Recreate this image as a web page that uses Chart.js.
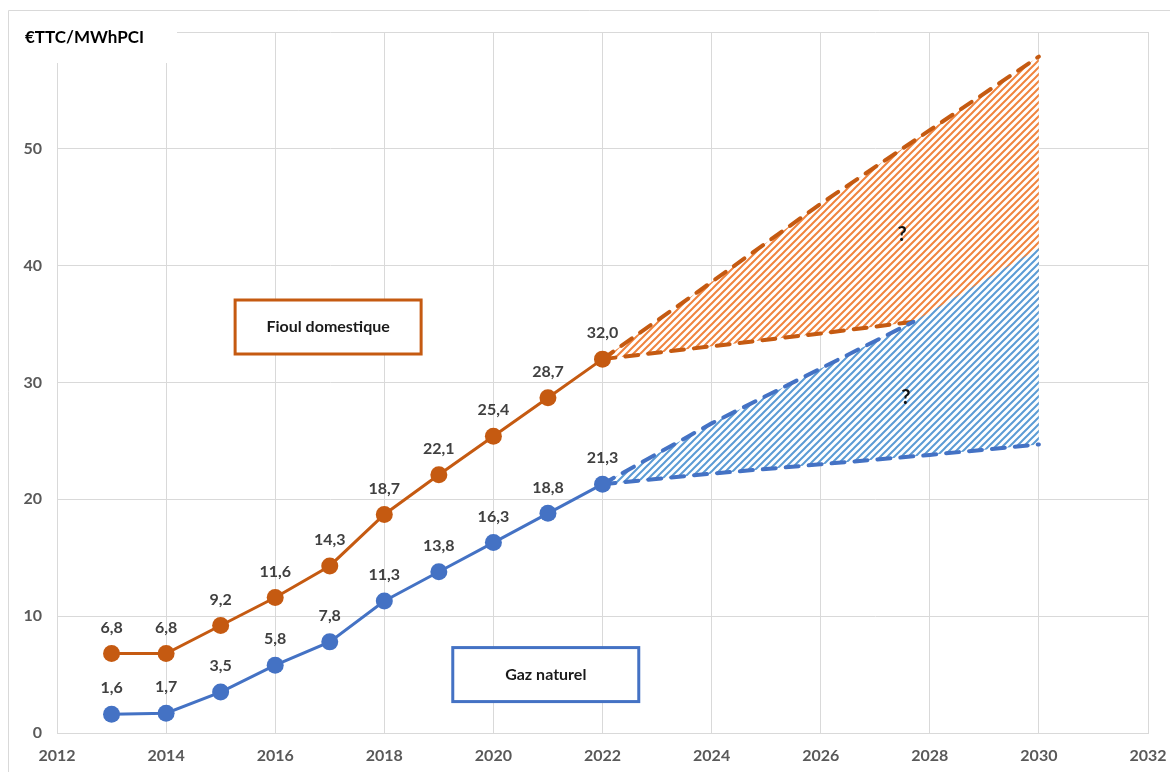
<!DOCTYPE html>
<html><head><meta charset="utf-8">
<script src="https://cdn.jsdelivr.net/npm/chart.js@4.4.0/dist/chart.umd.min.js"></script>
<style>html,body{margin:0;padding:0;background:#fff;}#wrap{width:1170px;height:772px;position:relative;}</style>
</head><body><div id="wrap"><canvas id="c" width="1170" height="772"></canvas></div>
<script>
// ---- data ----
const years = [2013, 2014, 2015, 2016, 2017, 2018, 2019, 2020, 2021, 2022];
const fioul = [6.8, 6.8, 9.2, 11.6, 14.3, 18.7, 22.1, 25.4, 28.7, 32.0];
const gaz = [1.6, 1.7, 3.5, 5.8, 7.8, 11.3, 13.8, 16.3, 18.8, 21.3];

const fioulHighX = [2022, 2024, 2026, 2028, 2030];
const fioulHighY = [32.0, 38.6, 45.3, 51.6, 57.9];
const fioulLowX = [2022, 2024, 2026, 2027.7, 2030];
const fioulLowY = [32.0, 33.1, 34.2, 35.2, 36.4];
const gazHighX = [2022, 2024, 2026, 2027.7, 2030];
const gazHighY = [21.3, 26.5, 31.2, 35.2, 41.5];
const gazLowX = [2022, 2024, 2026, 2028, 2030];
const gazLowY = [21.3, 22.2, 23.0, 23.8, 24.7];
const meetX = 2027.7; // where the two hatched areas meet

const xMin = 2012, xMax = 2032, xStep = 2;
const yMin = 0, yMax = 60, yStep = 10;
const yUnit = '€TTC/MWhPCI';
const seriesNames = ['Fioul domestique', 'Gaz naturel'];

// ---- styles ----
const ORANGE = '#C55A11', BLUE = '#4472C4';
const ORANGE_H = '#F0843E', BLUE_H = '#5B9BD5';
const FONT = 'Lato, "Open Sans", sans-serif';
const NONE = 'rgba(0,0,0,0)';

const pts = (xs, ys) => xs.map((x, i) => ({x: x, y: ys[i]}));
const canvas = document.getElementById('c');
const ctx = canvas.getContext('2d');

function hatch(color) {
  const s = 7;
  const c = document.createElement('canvas');
  c.width = s; c.height = s;
  const g = c.getContext('2d');
  g.fillStyle = '#fff';
  g.fillRect(0, 0, s, s);
  g.strokeStyle = color;
  g.lineWidth = 2.0;
  g.beginPath();
  g.moveTo(-1, s + 1); g.lineTo(s + 1, -1);
  g.moveTo(-2, 2); g.lineTo(2, -2);
  g.moveTo(s - 2, s + 2); g.lineTo(s + 2, s - 2);
  g.stroke();
  return ctx.createPattern(c, 'repeat');
}

const hideAfterMeet = {
  borderColor: c => (c.p0.parsed.x >= meetX ? NONE : undefined)
};

const dashed = {
  type: 'line', borderWidth: 4, borderDash: [13, 10], borderCapStyle: 'round',
  pointRadius: 0, pointHoverRadius: 0, tension: 0, fill: false
};
const areaEdge = {
  type: 'line', borderWidth: 0, borderColor: NONE, pointRadius: 0, pointHoverRadius: 0, tension: 0
};

const decorations = {
  id: 'decorations',
  afterDatasetsDraw(chart) {
    const g = chart.ctx;
    g.save();
    g.font = 'bold 16px ' + FONT;
    g.fillStyle = '#404040';
    g.textAlign = 'center';
    g.textBaseline = 'middle';
    [0, 1].forEach(di => {
      const meta = chart.getDatasetMeta(di);
      const vals = di === 0 ? fioul : gaz;
      meta.data.forEach((p, i) => {
        g.fillText(vals[i].toFixed(1).replace('.', ','), p.x, p.y - 26);
      });
    });
    g.restore();
  },
  afterDraw(chart) {
    const g = chart.ctx;
    const xs = chart.scales.x, ys = chart.scales.y;
    g.save();
    // title box covering grid
    g.fillStyle = '#fff';
    g.fillRect(9, 11, 168, 52);
    g.fillStyle = '#000';
    g.font = 'bold 17px ' + FONT;
    g.textAlign = 'left';
    g.textBaseline = 'middle';
    g.fillText(yUnit, 25, 38);
    // series boxes
    const box = (cx, cy, w, h, col, txt) => {
      g.fillStyle = '#fff';
      g.fillRect(cx - w / 2, cy - h / 2, w, h);
      g.strokeStyle = col;
      g.lineWidth = 3;
      g.strokeRect(cx - w / 2, cy - h / 2, w, h);
      g.fillStyle = '#1a1a1a';
      g.font = 'bold 16px ' + FONT;
      g.textAlign = 'center';
      g.fillText(txt, cx, cy);
    };
    box(xs.getPixelForValue(2016.97), ys.getPixelForValue(34.75), 186, 54, ORANGE, seriesNames[0]);
    box(xs.getPixelForValue(2020.96), ys.getPixelForValue(5.0), 186, 54, BLUE, seriesNames[1]);
    // question marks
    g.fillStyle = '#111';
    g.font = 'bold 20px ' + FONT;
    g.fillText('?', xs.getPixelForValue(2027.49), ys.getPixelForValue(42.7));
    g.fillText('?', xs.getPixelForValue(2027.56), ys.getPixelForValue(28.7));
    // outer frame
    g.strokeStyle = '#D9D9D9';
    g.lineWidth = 1;
    g.beginPath();
    g.moveTo(8.5, 772); g.lineTo(8.5, 10.5); g.lineTo(1170, 10.5);
    g.stroke();
    g.restore();
  }
};

new Chart(ctx, {
  type: 'line',
  data: {
    datasets: [
      // 0, 1: measured series
      { label: seriesNames[0], data: pts(years, fioul), borderColor: ORANGE, backgroundColor: ORANGE,
        borderWidth: 3, pointRadius: 8.5, pointBackgroundColor: ORANGE, pointBorderColor: ORANGE,
        pointBorderWidth: 0, order: 1, fill: false },
      { label: seriesNames[1], data: pts(years, gaz), borderColor: BLUE, backgroundColor: BLUE,
        borderWidth: 3, pointRadius: 8.5, pointBackgroundColor: BLUE, pointBorderColor: BLUE,
        pointBorderWidth: 0, order: 2, fill: false },
      // 2: fioul high (dashed + hatched area down to 3)
      Object.assign({}, dashed, { label: 'fh', data: pts(fioulHighX, fioulHighY), borderColor: ORANGE,
        backgroundColor: hatch(ORANGE_H), fill: 3, order: 10 }),
      // 3: fioul low area edge
      Object.assign({}, areaEdge, { label: 'fl-edge', data: pts(fioulLowX, fioulLowY), fill: false, order: 11 }),
      // 4: gaz high area (hatched down to 5)
      Object.assign({}, areaEdge, { label: 'gh-area', data: pts(gazHighX, gazHighY),
        backgroundColor: hatch(BLUE_H), fill: 5, order: 9 }),
      // 5: gaz low dashed
      Object.assign({}, dashed, { label: 'gl', data: pts(gazLowX, gazLowY), borderColor: BLUE, order: 7 }),
      // 6: fioul low dashed (visible up to meeting point)
      Object.assign({}, dashed, { label: 'fl', data: pts(fioulLowX, fioulLowY), borderColor: ORANGE,
        order: 6, segment: hideAfterMeet }),
      // 7: gaz high dashed (visible up to meeting point)
      Object.assign({}, dashed, { label: 'gh', data: pts(gazHighX, gazHighY), borderColor: BLUE,
        order: 5, segment: hideAfterMeet })
    ]
  },
  options: {
    responsive: false,
    animation: false,
    layout: { padding: { left: 0, top: 32, right: 22, bottom: 0 } },
    plugins: { legend: { display: false }, tooltip: { enabled: false } },
    scales: {
      x: {
        type: 'linear', min: xMin, max: xMax,
        ticks: { stepSize: xStep, color: '#595959', font: { family: FONT, size: 16, weight: 'bold' },
          padding: 13, callback: v => String(v), maxRotation: 0 },
        grid: { color: '#D9D9D9', drawTicks: false },
        border: { color: '#D9D9D9' },
        afterFit: s => { s.height = 39; s.paddingLeft = 0; s.paddingRight = 0; }
      },
      y: {
        min: yMin, max: yMax,
        ticks: { stepSize: yStep, color: '#595959', font: { family: FONT, size: 16, weight: 'bold' },
          padding: 15, callback: v => (v === yMax ? '' : String(v)) },
        grid: { color: '#D9D9D9', drawTicks: false },
        border: { color: '#D9D9D9' },
        afterFit: s => { s.width = 57; s.paddingTop = 0; s.paddingBottom = 0; }
      }
    }
  },
  plugins: [decorations]
});
</script></body></html>
